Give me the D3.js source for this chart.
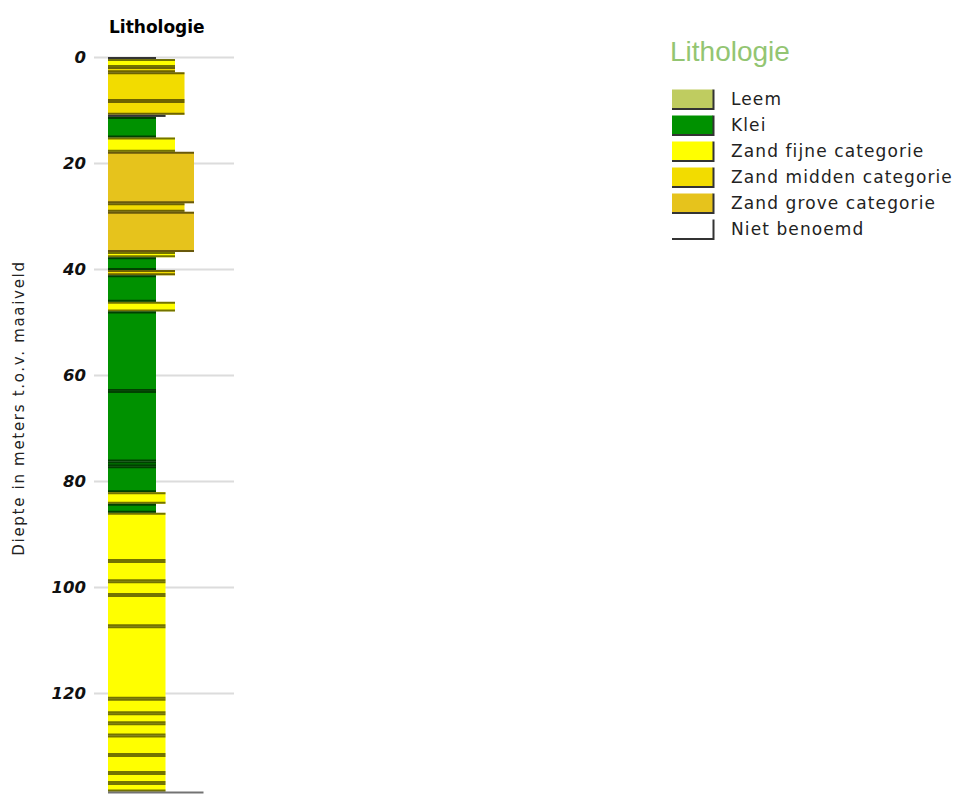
<!DOCTYPE html>
<html>
<head>
<meta charset="utf-8">
<script src="https://cdn.jsdelivr.net/npm/d3@7"></script>
<style>
  body { margin: 0; background: #fff; }
  svg { display: block; overflow: hidden; }
</style>
</head>
<body>
<script>
// categorieen en kleuren van de legenda
const categories = ['Leem', 'Klei', 'Zand fijne categorie', 'Zand midden categorie', 'Zand grove categorie', 'Niet benoemd'];
const categoryColors = ['#bfcc60', '#009100', '#ffff00', '#f2dc00', '#e6c31c', '#ffffff'];

// lagen: bovenkant, onderkant (m), lithologie, korrelklasse (breedte van de kolom)
const layerTop    = [0,   0.4, 1.9, 2.9, 8.3,  10.9, 11.3, 15.2, 17.9, 27.6, 29.2, 36.8, 37.8, 40.2, 41.2, 46.2, 48.0, 63.0, 76.3, 77.2, 82.1, 84.3, 86.0, 95.1, 98.9,  101.5, 107.4, 121.1, 123.8, 125.7, 128.0, 131.7, 135.1, 137.0, 138.6];
const layerBottom = [0.4, 1.9, 2.9, 8.3, 10.9, 11.3, 15.2, 17.9, 27.6, 29.2, 36.8, 37.8, 40.2, 41.2, 46.2, 48.0, 63.0, 76.3, 77.2, 82.1, 84.3, 86.0, 95.1, 98.9, 101.5, 107.4, 121.1, 123.8, 125.7, 128.0, 131.7, 135.1, 137.0, 138.6, 140.0];
const layerType   = ['Niet benoemd', 'Zand fijne categorie', 'Zand midden categorie', 'Zand midden categorie', 'Zand midden categorie',
  'Niet benoemd', 'Klei', 'Zand fijne categorie', 'Zand grove categorie', 'Zand midden categorie', 'Zand grove categorie',
  'Zand fijne categorie', 'Klei', 'Zand midden categorie', 'Klei', 'Zand fijne categorie', 'Klei', 'Klei', 'Klei', 'Klei',
  'Zand fijne categorie', 'Klei', 'Zand fijne categorie', 'Zand fijne categorie', 'Zand fijne categorie', 'Zand fijne categorie',
  'Zand fijne categorie', 'Zand fijne categorie', 'Zand fijne categorie', 'Zand fijne categorie', 'Zand fijne categorie',
  'Zand fijne categorie', 'Zand fijne categorie', 'Zand fijne categorie', 'Niet benoemd'];
const layerGrain  = [1, 3, 3, 4, 4, 2, 1, 3, 5, 4, 5, 3, 1, 3, 1, 3, 1, 1, 1, 1, 2, 1, 2, 2, 2, 2, 2, 2, 2, 2, 2, 2, 2, 2, 6];

const depthTicks = [0, 20, 40, 60, 80, 100, 120];

const width = 957, height = 794;
const colLeft = 108;

const svg = d3.select('body').append('svg')
  .attr('width', width)
  .attr('height', height);

const y = d3.scaleLinear().domain([0, 140]).range([57, 57 + 5.3 * 140]);
const xRight = d3.scaleLinear().domain([1, 5]).range([156, 194]);
const color = d3.scaleOrdinal().domain(categories).range(categoryColors);

// rasterlijnen
const grid = svg.append('g')
  .attr('transform', 'translate(234,0)')
  .call(d3.axisLeft(y).tickValues(depthTicks).tickSize(140).tickFormat(''));
grid.select('.domain').remove();
grid.selectAll('line').attr('stroke', '#dcdcdc').attr('stroke-width', 2);

// dieptelabels
const axis = svg.append('g')
  .attr('transform', 'translate(86,0)')
  .call(d3.axisLeft(y).tickValues(depthTicks).tickSize(0).tickPadding(0));
axis.select('.domain').remove();
axis.selectAll('text')
  .attr('font-family', 'DejaVu Sans')
  .attr('font-size', 16.5)
  .attr('font-weight', 'bold')
  .attr('font-style', 'italic')
  .attr('fill', '#111');

const layers = layerTop.map((t, i) => ({top: t, bottom: layerBottom[i], type: layerType[i], grain: layerGrain[i]}));

// lagen
svg.append('g').selectAll('rect')
  .data(layers)
  .join('rect')
  .attr('x', colLeft)
  .attr('y', d => y(d.top))
  .attr('width', d => xRight(d.grain) - colLeft)
  .attr('height', d => y(d.bottom) - y(d.top))
  .attr('fill', d => color(d.type));

// grenslijnen boven en onder elke laag
const edges = svg.append('g')
  .attr('stroke', '#000')
  .attr('stroke-opacity', 0.55)
  .attr('stroke-width', 2);
edges.selectAll('line.top')
  .data(layers)
  .join('line')
  .attr('class', 'top')
  .attr('x1', colLeft)
  .attr('x2', d => xRight(d.grain))
  .attr('y1', d => y(d.top) + 1)
  .attr('y2', d => y(d.top) + 1);
edges.selectAll('line.bottom')
  .data(layers)
  .join('line')
  .attr('class', 'bottom')
  .attr('x1', colLeft)
  .attr('x2', d => xRight(d.grain))
  .attr('y1', d => y(d.bottom) - 1)
  .attr('y2', d => y(d.bottom) - 1);

// kolomtitel
svg.append('text')
  .attr('x', 109)
  .attr('y', 33)
  .attr('font-family', 'DejaVu Sans')
  .attr('font-size', 17)
  .attr('font-weight', 'bold')
  .attr('fill', '#000')
  .text('Lithologie');

// as-titel
svg.append('text')
  .attr('transform', 'translate(24,408) rotate(-90)')
  .attr('text-anchor', 'middle')
  .attr('font-family', 'DejaVu Sans')
  .attr('font-size', 15)
  .attr('letter-spacing', 1.7)
  .attr('fill', '#222')
  .text('Diepte in meters t.o.v. maaiveld');

// legenda
const legend = svg.append('g');
legend.append('text')
  .attr('x', 670)
  .attr('y', 61)
  .attr('font-family', 'Liberation Sans')
  .attr('font-size', 28)
  .attr('fill', '#93c572')
  .text('Lithologie');

const rows = legend.selectAll('g.row')
  .data(categories)
  .join('g')
  .attr('class', 'row')
  .attr('transform', (d, i) => `translate(672,${99 + i * 26})`);

rows.append('rect')
  .attr('x', 0).attr('y', -9.5)
  .attr('width', 41).attr('height', 19)
  .attr('fill', d => color(d));
rows.append('path')
  .attr('d', 'M0,10 H41.5 V-9.5')
  .attr('fill', 'none')
  .attr('stroke', '#333')
  .attr('stroke-width', 2);
rows.append('text')
  .attr('x', 59)
  .attr('y', 6)
  .attr('font-family', 'DejaVu Sans')
  .attr('font-size', 17)
  .attr('letter-spacing', 1.1)
  .attr('fill', '#222')
  .text(d => d);
</script>
</body>
</html>
